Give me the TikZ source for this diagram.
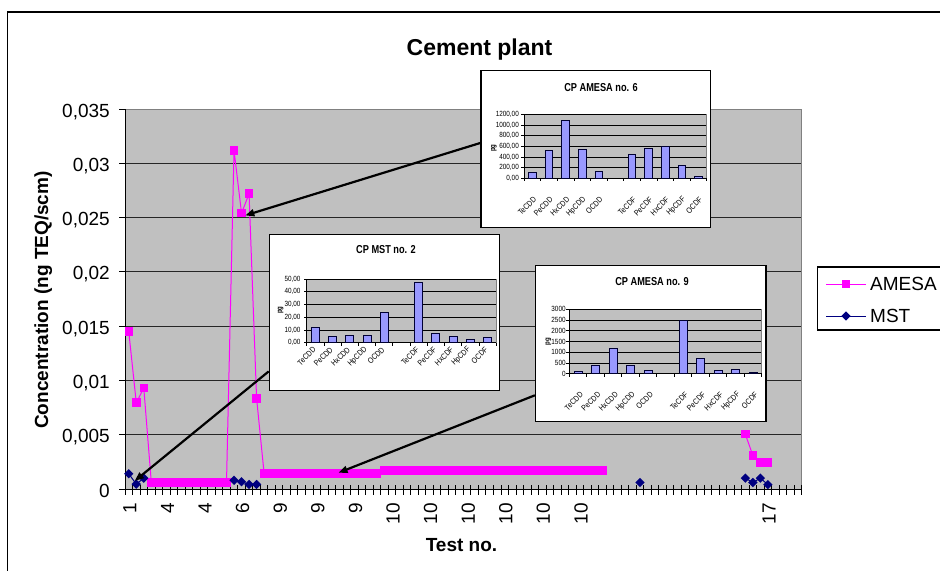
\documentclass[tikz,border=0pt]{standalone}
\usepackage{fontspec}
\setmainfont{Liberation Sans}
\newfontfamily\narrowfont[FakeStretch=0.8]{Liberation Sans}
\newfontfamily\ticknarrow[FakeStretch=0.85]{Liberation Sans}
\usetikzlibrary{arrows.meta,shapes.geometric}

\definecolor{plotgray}{RGB}{192,192,192}
\definecolor{amesapink}{RGB}{255,0,255}
\definecolor{mstnavy}{RGB}{0,0,128}
\definecolor{barblue}{RGB}{153,153,255}

\tikzset{
  gridline/.style={draw=black!85, line width=0.8pt},
  plotedge/.style={draw=black!50, line width=0.8pt},
  axisline/.style={draw=black, line width=0.9pt},
  thinaxis/.style={draw=black, line width=0.6pt},
  bigtext/.style={font=\fontsize{19}{22}\selectfont, inner sep=0pt},
  boldtext/.style={font=\fontsize{19}{22}\selectfont\bfseries, inner sep=0pt},
  titletext/.style={font=\fontsize{23}{27}\selectfont\bfseries, inner sep=0pt},
  amesaline/.style={draw=amesapink, line width=1pt},
  mstline/.style={draw=mstnavy, line width=1pt},
  amesamark/.style={rectangle, fill=amesapink, minimum size=8.5pt, inner sep=0pt},
  mstmark/.style={diamond, fill=mstnavy, minimum size=9.5pt, inner sep=0pt},
  insetarrow/.style={draw=black, line width=2.2pt, -{Triangle[length=9pt,width=7pt]}},
  insetbox/.style={draw=black, fill=white, line width=1.2pt, inner sep=0pt},
  insettitle/.style={font=\narrowfont\fontsize{11.5}{13}\selectfont\bfseries, inner sep=0pt},
  smalltick/.style={font=\ticknarrow\fontsize{7.5}{8}\selectfont, inner sep=0pt},
  pglabel/.style={font=\narrowfont\fontsize{7.5}{8}\selectfont\bfseries, inner sep=0pt, rotate=90},
  congener/.style={font=\ticknarrow\fontsize{8}{9}\selectfont, inner sep=0pt, rotate=45, anchor=east},
  pgbar/.style={fill=barblue, draw=black!80!blue, line width=0.7pt},
}

\begin{document}
\begin{tikzpicture}[x=1pt,y=-1pt]
\useasboundingbox (0,0) rectangle (940,571);

%Shape: chart frame
\draw[line width=1.2pt] (940,12) -- (7.5,12) -- (7.5,571);

% Text Node
\node[titletext, anchor=base] (charttitle) at (479.5,55) {Cement plant};
% Text Node
\node[boldtext, rotate=90, anchor=base] (ytitle) at (48,300) {Concentration (ng TEQ/scm)};
% Text Node
\node[boldtext, anchor=base] (xtitle) at (461.5,551.5) {Test no.};

%Shape: plot area
\begin{scope}[shift={(125,489)}, x=7.519pt, y=10.857pt]
\fill[plotgray] (0,0) rectangle (90,35);
\foreach \k in {5,10,...,30} \draw[gridline] (0,\k) -- (90,\k);
\draw[plotedge] (0,35) -- (90,35) -- (90,0);
\draw[axisline] (0,35) -- (0,0) -- (90,0);
\foreach \k in {0,5,...,35} \draw[axisline] (0,\k) -- ++(-6pt,0);
\foreach \k in {0,...,90} \draw[axisline] (\k,0) ++(0,4pt) -- ++(0,-10pt);

% Text Node
\foreach \k/\t in {0/0,5/{0,005},10/{0,01},15/{0,015},20/{0,02},25/{0,025},30/{0,03},35/{0,035}}
  \node[bigtext, anchor=base east, yshift=-8pt] (ylab\k) at (-2,\k) {\t};
% Text Node
\foreach \i/\t in {0/1,5/4,10/4,15/6,20/9,25/9,30/9,35/10,40/10,45/10,50/10,55/10,60/10,85/17}
  \node[bigtext, rotate=90, anchor=east] (xlab\i) at (\i+0.65,-1.3) {\t};

%Curve Lines: AMESA
\foreach \i/\v in {0/14.5,1/7.95,2/9.3,14/31.2,15/25.4,16/27.2,17/8.35,82/5.05,83/3.1,84/2.45,85/2.45}
  \coordinate (am\i) at (\i+0.5,\v);
\foreach \i in {3,...,13} \coordinate (am\i) at (\i+0.5,0.6);
\foreach \i in {18,...,33} \coordinate (am\i) at (\i+0.5,1.45);
\foreach \i in {34,...,63} \coordinate (am\i) at (\i+0.5,1.7);
\draw[amesaline] (am0) -- (am1) -- (am2) -- (am3) -- (am13) -- (am14) -- (am15) -- (am16) -- (am17) -- (am18) -- (am33) -- (am34) -- (am63);
\draw[amesaline] (am82) -- (am83) -- (am84) -- (am85);
\foreach \i in {0,...,63} \node[amesamark] (amk\i) at (am\i) {};
\foreach \i in {82,83,84,85} \node[amesamark] (amk\i) at (am\i) {};

%Curve Lines: MST
\foreach \i/\v in {0/1.4,1/0.45,2/1.0,14/0.8,15/0.67,16/0.42,17/0.42,68/0.6,82/1.0,83/0.6,84/1.0,85/0.4}
  \coordinate (ms\i) at (\i+0.5,\v);
\draw[mstline] (ms0) -- (ms1) -- (ms2);
\draw[mstline] (ms14) -- (ms15) -- (ms16) -- (ms17);
\draw[mstline] (ms82) -- (ms83) -- (ms84) -- (ms85);
\foreach \i in {0,1,2,14,15,16,17,68,82,83,84,85} \node[mstmark] (msk\i) at (ms\i) {};

\coordinate (peaktip) at (16.0,25.2);
\coordinate (msttip) at (1.3,0.75);
\coordinate (bartip) at (28.4,1.5);
\end{scope}

%Shape: inset CP AMESA no. 6
\node[insetbox, minimum width=229.7pt, minimum height=156.6pt] (amesasix) at (595.85,149) {};
\node[insettitle] (a6title) at (601,88) {CP AMESA no. 6};
\node[pglabel] (a6pg) at (494,148) {pg};
\begin{scope}[shift={(524,178.3)}, x=16.61pt, y=0.05333pt]
\fill[plotgray] (0,0) rectangle (11,1200);
\foreach \v in {200,400,...,1200} \draw[thinaxis] (0,\v) -- (11,\v);
\draw[plotedge, line width=0.6pt] (11,0) -- (11,1200);
\draw[thinaxis] (0,1200) -- (0,0) -- (11,0);
\foreach \v in {0,200,...,1200} \draw[thinaxis] (0,\v) -- ++(-3pt,0);
\foreach \k in {0,...,11} \draw[thinaxis] (\k,0) -- ++(0,-3pt);
\foreach \i/\v in {0/106,1/531,2/1094,3/550,4/137,6/450,7/562,8/600,9/250,10/44}
  \draw[pgbar] (\i+0.27,0) rectangle (\i+0.73,\v);
\foreach \v/\t in {0/{0,00},200/{200,00},400/{400,00},600/{600,00},800/{800,00},1000/{1000,00},1200/{1200,00}}
  \node[smalltick, anchor=east] (a6y\v) at (-0.3,\v) {\t};
\foreach \i/\t in {0/TeCDD,1/PeCDD,2/HxCDD,3/HpCDD,4/OCDD,6/TeCDF,7/PeCDF,8/HxCDF,9/HpCDF,10/OCDF}
  \node[congener] (a6c\i) at (\i+0.66,-377) {\t};
\end{scope}

%Shape: inset CP MST no. 2
\node[insetbox, minimum width=230pt, minimum height=156.4pt] (mstnotwo) at (384.3,312.5) {};
\node[insettitle] (m2title) at (386,250) {CP MST no. 2};
\node[pglabel] (m2pg) at (280.7,310) {pg};
\begin{scope}[shift={(306.7,342.7)}, x=17.21pt, y=1.274pt]
\fill[plotgray] (0,0) rectangle (11,50);
\foreach \v in {10,20,...,50} \draw[thinaxis] (0,\v) -- (11,\v);
\draw[plotedge, line width=0.6pt] (11,0) -- (11,50);
\draw[thinaxis] (0,50) -- (0,0) -- (11,0);
\foreach \v in {0,10,...,50} \draw[thinaxis] (0,\v) -- ++(-3pt,0);
\foreach \k in {0,...,11} \draw[thinaxis] (\k,0) -- ++(0,-3pt);
\foreach \i/\v in {0/11.8,1/5,2/6,3/6,4/24,6/47.4,7/7,8/5,9/2.9,10/4.5}
  \draw[pgbar] (\i+0.27,0) rectangle (\i+0.73,\v);
\foreach \v/\t in {0/{0,00},10/{10,00},20/{20,00},30/{30,00},40/{40,00},50/{50,00}}
  \node[smalltick, anchor=east] (m2y\v) at (-0.35,\v) {\t};
\foreach \i/\t in {0/TeCDD,1/PeCDD,2/HxCDD,3/HpCDD,4/OCDD,6/TeCDF,7/PeCDF,8/HxCDF,9/HpCDF,10/OCDF}
  \node[congener] (m2c\i) at (\i+0.45,-4.5) {\t};
\end{scope}

%Shape: inset CP AMESA no. 9
\node[insetbox, minimum width=230.5pt, minimum height=156pt] (amesanine) at (650.75,343.7) {};
\node[insettitle] (a9title) at (652,282) {CP AMESA no. 9};
\node[pglabel] (a9pg) at (548.3,341.7) {pg};
\begin{scope}[shift={(569.3,373.7)}, x=17.49pt, y=0.02147pt]
\fill[plotgray] (0,0) rectangle (11,3000);
\foreach \v in {500,1000,...,3000} \draw[thinaxis] (0,\v) -- (11,\v);
\draw[plotedge, line width=0.6pt] (11,0) -- (11,3000);
\draw[thinaxis] (0,3000) -- (0,0) -- (11,0);
\foreach \v in {0,500,...,3000} \draw[thinaxis] (0,\v) -- ++(-3pt,0);
\foreach \k in {0,...,11} \draw[thinaxis] (\k,0) -- ++(0,-3pt);
\foreach \i/\v in {0/100,1/400,2/1200,3/380,4/160,6/2470,7/710,8/150,9/220,10/50}
  \draw[pgbar] (\i+0.27,0) rectangle (\i+0.73,\v);
\foreach \v in {0,500,...,3000}
  \node[smalltick, anchor=east] (a9y\v) at (-0.2,\v) {\v};
\foreach \i/\t in {0/TeCDD,1/PeCDD,2/HxCDD,3/HpCDD,4/OCDD,6/TeCDF,7/PeCDF,8/HxCDF,9/HpCDF,10/OCDF}
  \node[congener] (a9c\i) at (\i+0.71,-918) {\t};
\end{scope}

%Straight Lines: pointers from insets
\draw[insetarrow] (amesasix.177) -- (peaktip);
\draw[insetarrow] (mstnotwo.207) -- (msttip);
\draw[insetarrow] (amesanine.204) -- (bartip);

%Shape: legend
\draw[line width=1.2pt] (940,267) -- (817.7,267) -- (817.7,330) -- (940,330);
\coordinate (lgaleft) at (826,284);
\coordinate (lgaright) at (866,284);
\draw[amesaline] (lgaleft) -- (lgaright);
\node[amesamark] (lgamark) at (846,284) {};
\node[bigtext, anchor=west] (lgatext) at (870,284) {AMESA};
\coordinate (lgmleft) at (826,316);
\coordinate (lgmright) at (866,316);
\draw[mstline] (lgmleft) -- (lgmright);
\node[mstmark] (lgmmark) at (846,316) {};
\node[bigtext, anchor=west] (lgmtext) at (870,316) {MST};

\end{tikzpicture}
\end{document}
